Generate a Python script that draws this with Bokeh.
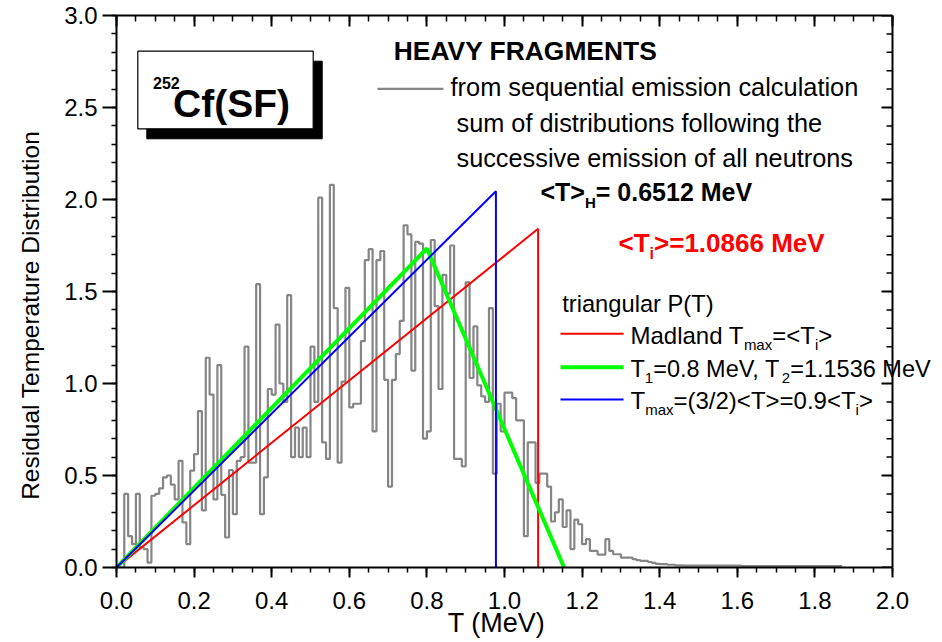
import numpy as np
from bokeh.plotting import figure
from bokeh.models import Range1d, LinearAxis, Label, SingleIntervalTicker, PrintfTickFormatter
from bokeh.embed import file_html
from bokeh.resources import INLINE

# ---------------- data ----------------
bin_start = 0.0
bin_width = 0.01
residual_T_dist = [
    0.0, 0.0,
    0.40, 0.17, 0.127, 0.40, 0.11, 0.10, 0.027, 0.39, 0.40, 0.43,
    0.49, 0.50, 0.45, 0.37, 0.58, 0.245, 0.127, 0.526, 0.616, 0.85, 0.31,
    1.14, 0.94, 0.37, 1.10, 0.395, 0.163,
    0.53, 0.29, 0.58, 0.60, 1.20, 0.57, 0.57, 1.54, 0.29, 0.49,
    0.97, 0.94, 1.32, 1.00, 0.90, 1.48, 0.60, 0.76, 0.60, 0.76,
    0.60, 1.20, 0.90, 2.01, 0.68, 0.59, 2.08, 1.41, 0.57, 1.01, 1.52,
    0.87, 0.89, 0.89, 1.23, 1.67, 1.73, 0.74, 1.67, 1.72, 1.02,
    0.44, 1.02, 1.16, 1.34, 1.86, 1.81, 1.07, 1.77, 1.76, 0.70,
    0.74, 1.78, 1.42, 0.97, 1.59, 1.49, 1.75, 0.59,
    0.59, 0.55, 1.55, 1.03, 1.31, 0.99, 0.93, 0.90, 1.41, 0.51,
    0.89, 0.74, 0.95, 0.95, 0.92, 0.80, 0.80, 0.17,
    0.68, 0.68, 0.46, 0.51, 0.51, 0.44, 0.25, 0.30, 0.37, 0.22, 0.31, 0.10, 0.26,
    0.235, 0.127, 0.154, 0.09, 0.09, 0.07, 0.07, 0.154, 0.09, 0.072,
    0.072, 0.054, 0.054, 0.054, 0.045, 0.04, 0.036, 0.036, 0.03, 0.025,
    0.02, 0.018, 0.018, 0.015, 0.015, 0.012, 0.012,
    0.01, 0.01, 0.01, 0.01, 0.01, 0.01, 0.01, 0.01, 0.01, 0.01,
    0.01, 0.01, 0.01, 0.01, 0.01,
    0.008, 0.008, 0.008, 0.008, 0.008, 0.008, 0.008, 0.008, 0.008, 0.008,
    0.008, 0.008, 0.008, 0.008, 0.008, 0.008, 0.008, 0.008, 0.008, 0.008,
    0.008, 0.008, 0.008, 0.008, 0.008, 0.008,
]

madland_T = [0.0, 1.0866, 1.0866]          # Tmax = <Ti>
madland_P = [0.0, 1.8406, 0.0]
twoT_T = [0.0, 0.8, 1.1536]                # T1 = 0.8, T2 = 1.1536
twoT_P = [0.0, 1.7337, 0.0]
blue_T = [0.0, 0.9779, 0.9779]             # Tmax = 0.9<Ti>
blue_P = [0.0, 2.0451, 0.0]

x_label = "T (MeV)"
y_label = "Residual Temperature Distribution"
x_axis_max = 2.0
y_axis_max = 3.0

# ---------------- layout ----------------
W, H = 942, 642
FL, FR, FT, FB = 116, 892, 15, 567      # axes box in pixels
FRAME_R = 936                            # frame extends right so text may cross the right axis
FONT = "Liberation Sans"


def X(px):
    return (px - FL) / (FR - FL) * x_axis_max


def Y(py):
    return (FB - py) / (FB - FT) * y_axis_max


p = figure(width=W, height=H, x_range=Range1d(0, X(FRAME_R)), y_range=Range1d(0, y_axis_max),
           output_backend="svg", toolbar_location=None,
           min_border_left=FL, min_border_right=W - FRAME_R,
           min_border_top=FT, min_border_bottom=H - FB)
p.xgrid.visible = False
p.ygrid.visible = False
p.outline_line_color = None
p.background_fill_color = "white"
p.border_fill_color = "white"


def style_axis(ax, interval, nminor, inward, labels=True, tick_out=10, tick_minor=5):
    ax.ticker = SingleIntervalTicker(interval=interval, num_minor_ticks=nminor)
    ax.axis_line_width = 2
    ax.axis_line_color = "black"
    ax.major_tick_line_width = 2
    ax.minor_tick_line_width = 1.5
    ax.major_tick_line_color = "black"
    ax.minor_tick_line_color = "black"
    if inward:
        ax.major_tick_in = tick_out
        ax.major_tick_out = 0
        ax.minor_tick_in = tick_minor
        ax.minor_tick_out = 0
    else:
        ax.major_tick_in = 0
        ax.major_tick_out = tick_out
        ax.minor_tick_in = 0
        ax.minor_tick_out = tick_minor
    if labels:
        ax.formatter = PrintfTickFormatter(format="%.1f")
        ax.major_label_text_font = FONT
        ax.major_label_text_font_size = "24px"
        ax.major_label_text_color = "black"
    else:
        ax.major_label_text_font_size = "0px"
        ax.major_label_standoff = 0


xa = p.xaxis[0]
style_axis(xa, 0.2, 4, False, True, 10, 5)
xa.bounds = (0, x_axis_max)
xa.major_label_standoff = 14
# trailing no-break spaces centre the visible title under the 0-2 MeV axis (the frame runs wider)
xa.axis_label = x_label + "\u00a0" * 8
xa.axis_label_text_font = FONT
xa.axis_label_text_font_size = "27px"
xa.axis_label_text_font_style = "normal"
xa.axis_label_text_color = "black"
xa.axis_label_standoff = -4

ya = p.yaxis[0]
style_axis(ya, 0.5, 5, False, True, 14, 5)
ya.major_label_standoff = 5
# trailing no-break spaces push the visible title a little below the frame centre, as in the original
ya.axis_label = y_label + "\u00a0" * 7
ya.axis_label_text_font = FONT
ya.axis_label_text_font_size = "24.5px"
ya.axis_label_text_font_style = "normal"
ya.axis_label_text_color = "black"
ya.axis_label_standoff = 17

ta = LinearAxis()
style_axis(ta, 0.2, 4, True, False, 11, 6)
ta.bounds = (0, x_axis_max)
p.add_layout(ta, "above")

# right axis drawn at x = 2.0 (inward ticks)
px_per_x = (FR - FL) / x_axis_max
maj_len = 11 / px_per_x
min_len = 6 / px_per_x
right_major = np.arange(0, y_axis_max + 1e-9, 0.5)
right_minor = np.array([v for v in np.arange(0, y_axis_max + 1e-9, 0.1)
                        if abs(v / 0.5 - round(v / 0.5)) > 1e-6])
p.segment(x0=[x_axis_max], y0=[0], x1=[x_axis_max], y1=[y_axis_max], line_color="black", line_width=2)
p.segment(x0=np.full(len(right_major), x_axis_max), y0=right_major,
          x1=np.full(len(right_major), x_axis_max - maj_len), y1=right_major,
          line_color="black", line_width=2)
p.segment(x0=np.full(len(right_minor), x_axis_max), y0=right_minor,
          x1=np.full(len(right_minor), x_axis_max - min_len), y1=right_minor,
          line_color="black", line_width=1.5)

# ---------------- histogram (step outline) ----------------
n = len(residual_T_dist)
edges = bin_start + bin_width * np.arange(n + 1)
step_y = list(residual_T_dist) + [residual_T_dist[-1]]
p.step(edges, step_y, mode="after", line_color="#858585", line_width=2.2)

# ---------------- triangular P(T) ----------------
p.line(madland_T, madland_P, line_color="#ff0000", line_width=2)
p.line(twoT_T, twoT_P, line_color="#00ff00", line_width=4)
p.line(blue_T, blue_P, line_color="#0000ff", line_width=2)

# ---------------- text helpers ----------------
REG = {' ': 278, '(': 333, ')': 333, ',': 278, '.': 278, '/': 278, '<': 584, '=': 584, '>': 584,
       'M': 833, 'P': 667, 'T': 611, 'V': 667, 'H': 722,
       'a': 556, 'b': 556, 'c': 500, 'd': 556, 'e': 556, 'f': 278, 'g': 556, 'h': 556, 'i': 222,
       'j': 222, 'k': 500, 'l': 222, 'm': 833, 'n': 556, 'o': 556, 'p': 556, 'q': 556, 'r': 333,
       's': 500, 't': 278, 'u': 556, 'v': 500, 'w': 722, 'x': 500, 'y': 500, 'z': 500}
BOLD = {' ': 278, '(': 333, ')': 333, '.': 278, '<': 584, '=': 584, '>': 584,
        'C': 722, 'F': 611, 'H': 722, 'M': 833, 'S': 667, 'T': 611, 'V': 667,
        'e': 556, 'f': 333, 'i': 278}
for d in "0123456789":
    REG[d] = 556
    BOLD[d] = 556

BASE_SHIFT = 0.35   # label anchor sits ~0.35 em above the baseline


def tw(s, size, bold):
    tab = BOLD if bold else REG
    return sum(tab.get(c, 556) for c in s) * size / 1000.0


def lab(text, px, py, size, bold=False, color="black"):
    p.add_layout(Label(x=X(px), y=Y(py - BASE_SHIFT * size), text=text, text_font=FONT,
                       text_font_size=f"{size}px",
                       text_font_style="bold" if bold else "normal",
                       text_color=color, text_align="left", text_baseline="alphabetic"))


def compose(segs, px, py, color="black"):
    cur = px
    for text, size, bold, dy in segs:
        lab(text, cur, py + dy, size, bold, color)
        cur += tw(text, size, bold)


# Cf box with shadow
p.quad(left=X(146.3), right=X(321.7), top=Y(60.7), bottom=Y(138.3),
       fill_color="black", line_color="black")
p.quad(left=X(137.3), right=X(312.7), top=Y(50.7), bottom=Y(128.3),
       fill_color="white", line_color="black", line_width=1.2)
lab("252", 152.5, 88.5, 16, True)
lab("Cf(SF)", 172.5, 116.7, 39, True)

# header texts
lab("HEAVY FRAGMENTS", 393.3, 59.3, 26.4, True)
p.line([X(377), X(443)], [Y(88.3), Y(88.3)], line_color="#858585", line_width=2.2)
lab("from sequential emission calculation", 450, 95, 25.4)
lab("sum of distributions following the", 456, 131.7, 25.3)
lab("successive emission of all neutrons", 456, 166.7, 25.3)
compose([("<T>", 25, True, 0), ("H", 15, True, 7), ("= 0.6512 MeV", 25, True, 0)], 540, 200)
compose([("<T", 26, True, 0), ("i", 16, True, 7), (">=1.0866 MeV", 26, True, 0)], 618, 252,
        color="#ff0000")

# legend of triangular P(T)
lab("triangular P(T)", 561.7, 311.7, 23.7)
p.line([X(560), X(623)], [Y(333.3), Y(333.3)], line_color="#ff0000", line_width=2)
p.line([X(560), X(623)], [Y(366.7), Y(366.7)], line_color="#00ff00", line_width=4)
p.line([X(560), X(623)], [Y(399), Y(399)], line_color="#0000ff", line_width=2)
compose([("Madland T", 24, False, 0), ("max", 15, False, 6), ("=<T", 24, False, 0),
         ("i", 15, False, 6), (">", 24, False, 0)], 630, 343.3)
compose([("T", 23.5, False, 0), ("1", 15, False, 6), ("=0.8 MeV, T", 23.5, False, 0),
         ("2", 15, False, 6), ("=1.1536 MeV", 23.5, False, 0)], 630, 376.7)
compose([("T", 24, False, 0), ("max", 15, False, 6), ("=(3/2)<T>=0.9<T", 24, False, 0),
         ("i", 15, False, 6), (">", 24, False, 0)], 630, 408.3)

open("out.html", "w").write(file_html(p, INLINE))
